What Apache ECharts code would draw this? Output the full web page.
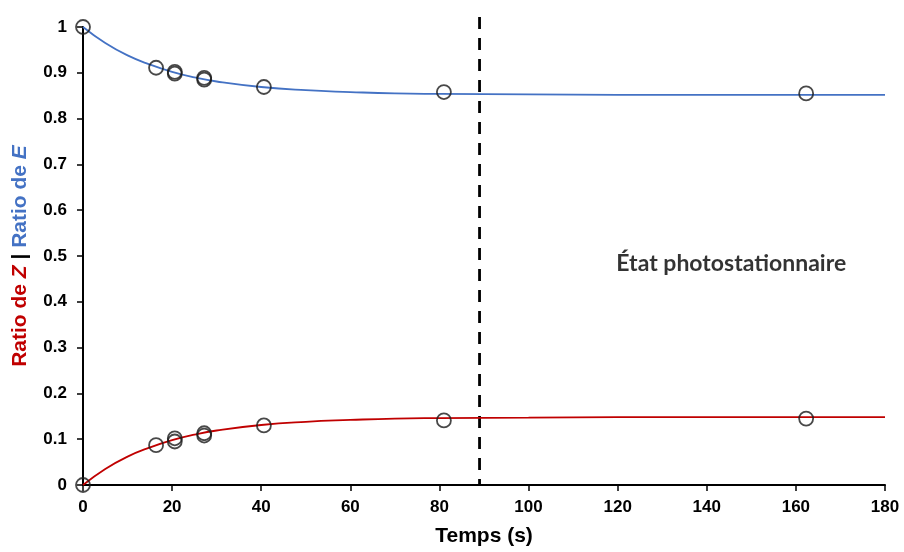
<!DOCTYPE html>
<html>
<head>
<meta charset="utf-8">
<script src="https://cdn.jsdelivr.net/npm/echarts@6/dist/echarts.min.js"></script>
<style>html,body{margin:0;padding:0;background:#fff;overflow:hidden}#c{width:904px;height:552px}</style>
</head>
<body>
<div id="c"></div>
<script>
// Measured points (time in s, ratio)
const timePts = [0, 16.4, 20.6, 20.6, 27.2, 27.2, 40.6, 81.0, 162.3];
const ratioE = [1.000, 0.911, 0.902, 0.898, 0.889, 0.885, 0.869, 0.858, 0.855];
const ratioZ = [0.000, 0.087, 0.102, 0.095, 0.113, 0.108, 0.130, 0.141, 0.145];
// Fitted curves
const curveT = [0, 5, 10, 15, 20, 25, 30, 40, 50, 60, 70, 80, 100, 120, 140, 160, 180];
const curveE = [1.000, 0.965, 0.938, 0.918, 0.902, 0.890, 0.881, 0.869, 0.862, 0.858, 0.855, 0.854, 0.853, 0.852, 0.852, 0.852, 0.852];
const curveZ = [0.000, 0.035, 0.062, 0.082, 0.098, 0.110, 0.119, 0.131, 0.138, 0.142, 0.145, 0.146, 0.147, 0.148, 0.148, 0.148, 0.148];
const stationaryT = 89;
const stationaryTop = 1.022;
const annotation = { t: 145.5, r: 0.484, text: 'État photostationnaire' };

const pair = (xs, ys) => xs.map((x, i) => [x, ys[i]]);
const chart = echarts.init(document.getElementById('c'));
const FONT = '"Liberation Sans", Arial, sans-serif';
const BLUE = '#4472C4', RED = '#C00000';
const NF = 21;
chart.setOption({
  animation: false,
  grid: { left: 83, width: 802, top: 27, height: 461, containLabel: false },
  xAxis: {
    type: 'value', min: 0, max: 180, interval: 20,
    name: 'Temps (s)', nameLocation: 'middle', nameGap: 41,
    nameTextStyle: { fontFamily: FONT, fontWeight: 'bold', fontSize: NF, color: '#000' },
    axisLine: { lineStyle: { color: '#000', width: 2 } },
    axisTick: { inside: false, length: 6, lineStyle: { color: '#000', width: 1.5 } },
    axisLabel: { fontFamily: FONT, fontWeight: 'bold', fontSize: 17, color: '#000', margin: 14 },
    splitLine: { show: false }
  },
  yAxis: {
    type: 'value', min: 0, max: 1, interval: 0.1,
    name: '{r|Ratio de }{ri|Z}{b| | }{bl|Ratio de }{bli|E}',
    nameLocation: 'middle', nameRotate: 90, nameGap: 52,
    nameTextStyle: {
      rich: {
        r: { fontFamily: FONT, fontWeight: 'bold', fontSize: NF, color: RED },
        ri: { fontFamily: FONT, fontWeight: 'bold', fontStyle: 'italic', fontSize: NF, color: RED },
        b: { fontFamily: FONT, fontWeight: 'bold', fontSize: NF, color: '#000' },
        bl: { fontFamily: FONT, fontWeight: 'bold', fontSize: NF, color: BLUE },
        bli: { fontFamily: FONT, fontWeight: 'bold', fontStyle: 'italic', fontSize: NF, color: BLUE }
      }
    },
    axisLine: { show: true, lineStyle: { color: '#000', width: 2 } },
    axisTick: { show: true, inside: false, length: 6, lineStyle: { color: '#000', width: 1.5 } },
    axisLabel: { fontFamily: FONT, fontWeight: 'bold', fontSize: 17, color: '#000', margin: 16 },
    splitLine: { show: false }
  },
  series: [
    { type: 'line', data: [[stationaryT, stationaryTop], [stationaryT, 0]], clip: false,
      showSymbol: false, silent: true, z: 1,
      lineStyle: { color: '#000', type: [12, 9], width: 2.8 } },
    { type: 'line', data: pair(curveT, curveE), smooth: true, showSymbol: false,
      lineStyle: { color: BLUE, width: 1.8 }, z: 2 },
    { type: 'line', data: pair(curveT, curveZ), smooth: true, showSymbol: false,
      lineStyle: { color: RED, width: 1.8 }, z: 2 },
    { type: 'scatter', data: pair(timePts, ratioE), symbol: 'circle', symbolSize: 14,
      itemStyle: { color: 'rgba(0,0,0,0)', borderColor: '#1a1a1a', borderWidth: 1.8 }, z: 3 },
    { type: 'scatter', data: pair(timePts, ratioZ), symbol: 'circle', symbolSize: 14,
      itemStyle: { color: 'rgba(0,0,0,0)', borderColor: '#1a1a1a', borderWidth: 1.8 }, z: 3 },
    { type: 'scatter', data: [[annotation.t, annotation.r]], symbolSize: 0, silent: true,
      label: { show: true, position: 'inside', formatter: annotation.text,
        fontFamily: 'Lato, "Open Sans", sans-serif', fontWeight: 'bold', fontSize: 23, color: '#000' } }
  ]
});
</script>
</body>
</html>
